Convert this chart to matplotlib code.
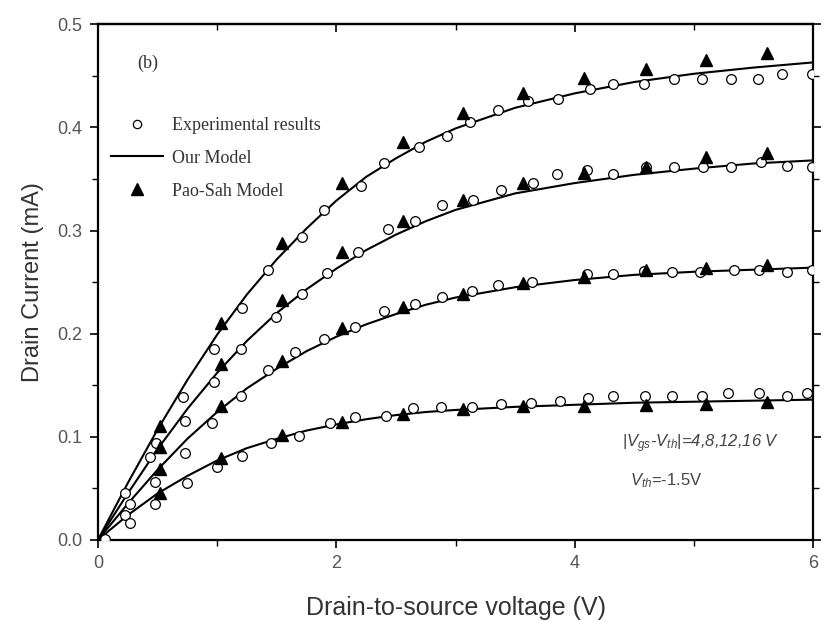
import matplotlib.pyplot as plt
from matplotlib.lines import Line2D

# Our Model (solid lines), |Vgs-Vth| = 16, 12, 8, 4 V
vds_model = [0, 0.25, 0.5, 0.75, 1.0, 1.25, 1.5, 1.75, 2.0, 2.25, 2.5, 2.75, 3.0, 3.5, 4.0, 4.5, 5.0, 5.5, 6.0]
model_16 = [0, 0.055, 0.107, 0.155, 0.199, 0.238, 0.272, 0.302, 0.329, 0.352, 0.370, 0.386, 0.399, 0.419, 0.433, 0.444, 0.452, 0.458, 0.463]
model_12 = [0, 0.045, 0.088, 0.127, 0.162, 0.193, 0.220, 0.243, 0.263, 0.281, 0.296, 0.309, 0.320, 0.336, 0.346, 0.354, 0.360, 0.365, 0.368]
model_8 = [0, 0.035, 0.068, 0.098, 0.124, 0.147, 0.166, 0.183, 0.197, 0.209, 0.219, 0.228, 0.235, 0.245, 0.252, 0.257, 0.260, 0.262, 0.264]
model_4 = [0, 0.024, 0.045, 0.062, 0.077, 0.089, 0.098, 0.106, 0.112, 0.117, 0.121, 0.124, 0.126, 0.129, 0.131, 0.133, 0.134, 0.135, 0.136]

# Experimental results (open circles)
exp_x16 = [0.06, 0.23, 0.49, 0.71, 0.97, 1.21, 1.43, 1.71, 1.9, 2.21, 2.40, 2.69, 2.93, 3.12, 3.36, 3.61, 3.86,
           4.13, 4.32, 4.58, 4.83, 5.07, 5.31, 5.54, 5.74, 5.99]
exp_y16 = [0.001, 0.045, 0.094, 0.139, 0.185, 0.225, 0.262, 0.294, 0.320, 0.343, 0.365, 0.381, 0.392, 0.405, 0.417, 0.426, 0.428,
           0.437, 0.442, 0.442, 0.447, 0.447, 0.447, 0.447, 0.452, 0.452]
exp_x12 = [0.27, 0.44, 0.73, 0.97, 1.2, 1.49, 1.71, 1.92, 2.18, 2.43, 2.66, 2.89, 3.15, 3.38, 3.65, 3.85,
           4.1, 4.32, 4.6, 4.83, 5.08, 5.31, 5.56, 5.78, 5.99]
exp_y12 = [0.035, 0.080, 0.115, 0.153, 0.185, 0.216, 0.238, 0.259, 0.279, 0.301, 0.309, 0.325, 0.330, 0.339, 0.346, 0.355,
           0.359, 0.355, 0.362, 0.362, 0.362, 0.362, 0.366, 0.363, 0.362]
exp_x8 = [0.23, 0.48, 0.73, 0.96, 1.2, 1.43, 1.65, 1.9, 2.16, 2.40, 2.66, 2.89, 3.14, 3.36, 3.64,
          4.1, 4.32, 4.58, 4.82, 5.05, 5.34, 5.55, 5.78, 5.99]
exp_y8 = [0.024, 0.056, 0.084, 0.113, 0.140, 0.165, 0.182, 0.195, 0.206, 0.222, 0.229, 0.236, 0.241, 0.247, 0.250,
          0.258, 0.258, 0.261, 0.260, 0.260, 0.262, 0.262, 0.260, 0.262]
exp_x4 = [0.27, 0.48, 0.75, 1.0, 1.21, 1.45, 1.69, 1.95, 2.16, 2.42, 2.64, 2.88, 3.14, 3.38, 3.63, 3.88,
          4.11, 4.32, 4.59, 4.82, 5.07, 5.29, 5.55, 5.78, 5.95]
exp_y4 = [0.016, 0.035, 0.055, 0.071, 0.081, 0.094, 0.101, 0.113, 0.119, 0.120, 0.128, 0.129, 0.129, 0.132, 0.133, 0.135,
          0.138, 0.140, 0.140, 0.140, 0.140, 0.142, 0.142, 0.140, 0.142]

# Pao-Sah Model (filled triangles)
ps_x = [0.52, 1.03, 1.54, 2.05, 2.56, 3.06, 3.57, 4.08, 4.6, 5.1, 5.61]
ps_16 = [0.110, 0.210, 0.288, 0.346, 0.386, 0.414, 0.433, 0.448, 0.457, 0.465, 0.472]
ps_12 = [0.090, 0.171, 0.233, 0.279, 0.309, 0.330, 0.346, 0.356, 0.362, 0.371, 0.375]
ps_8 = [0.069, 0.130, 0.173, 0.205, 0.226, 0.238, 0.249, 0.255, 0.262, 0.264, 0.267]
ps_4 = [0.045, 0.079, 0.102, 0.114, 0.122, 0.127, 0.130, 0.130, 0.131, 0.132, 0.134]

plt.rcParams['font.family'] = 'Liberation Sans'
plt.rcParams['mathtext.fontset'] = 'custom'
plt.rcParams['mathtext.rm'] = 'Liberation Sans'
plt.rcParams['mathtext.it'] = 'Liberation Sans:italic'

fig = plt.figure(figsize=(8.23, 6.22), dpi=100)
ax = fig.add_axes([0.119, 0.132, 0.869, 0.829])

for ym in [model_16, model_12, model_8, model_4]:
    ax.plot(vds_model, ym, color='black', lw=1.5, zorder=2)

for xs, ys in [(exp_x16, exp_y16), (exp_x12, exp_y12), (exp_x8, exp_y8), (exp_x4, exp_y4)]:
    ax.plot(xs, ys, 'o', ms=7, mfc='white', mec='black', mew=0.9, zorder=3)

for ys in [ps_16, ps_12, ps_8, ps_4]:
    ax.plot(ps_x, ys, '^', ms=8, color='black', zorder=4)

ax.set_xlim(0, 6)
ax.set_ylim(0, 0.5)
ax.set_xticks([0, 2, 4, 6])
ax.set_xticks([1, 3, 5], minor=True)
ax.set_yticks([0.0, 0.1, 0.2, 0.3, 0.4, 0.5])
ax.set_yticks([0.05, 0.15, 0.25, 0.35, 0.45], minor=True)
ax.set_yticklabels(['0.0', '0.1', '0.2', '0.3', '0.4', '0.5'])
ax.tick_params(which='both', direction='out', top=False, right=True, labelsize=13, labelcolor='#555555')
ax.tick_params(which='major', length=6, width=1.2, pad=5)
ax.tick_params(which='minor', length=4, width=1.0)
for s in ax.spines.values():
    s.set_linewidth(1.6)

# top axis with inward ticks
top = ax.secondary_xaxis('top')
top.set_xticks([0, 2, 4, 6])
top.set_xticks([1, 3, 5], minor=True)
top.tick_params(which='both', direction='in', labeltop=False)
top.tick_params(which='major', length=6, width=1.2)
top.tick_params(which='minor', length=4, width=1.0)
top.spines['top'].set_linewidth(1.6)

ax.set_xlabel('Drain-to-source voltage (V)', fontsize=18, color='#333333', labelpad=17)
ax.set_ylabel('Drain Current (mA)', fontsize=17, color='#333333', labelpad=10)

ax.text(0.055, 0.924, '(b)', transform=ax.transAxes, fontsize=13, va='center',
        family='Liberation Serif', color='#333333')

handles = [
    Line2D([], [], ls='none', marker='o', ms=6, mfc='white', mec='black', mew=0.9),
    Line2D([], [], color='black', lw=1.5),
    Line2D([], [], ls='none', marker='^', ms=8, color='black'),
]
labels = ['Experimental results', 'Our Model', 'Pao-Sah Model']
ax.legend(handles, labels, loc='upper left', bbox_to_anchor=(-0.005, 0.852), frameon=False,
          prop={'family': 'Liberation Serif', 'size': 13}, handlelength=2.9, labelspacing=0.88,
          handletextpad=0.5, labelcolor='#333333')

ax.text(0.733, 0.186, r'$|V_{gs}$-$V_{th}|$=4,8,12,16 V', transform=ax.transAxes, fontsize=12,
        va='center', style='italic', color='#444444')
ax.text(0.744, 0.114, r'$V_{th}$=-1.5V', transform=ax.transAxes, fontsize=12, va='center', color='#444444')

fig.savefig('out.png', dpi=100)
